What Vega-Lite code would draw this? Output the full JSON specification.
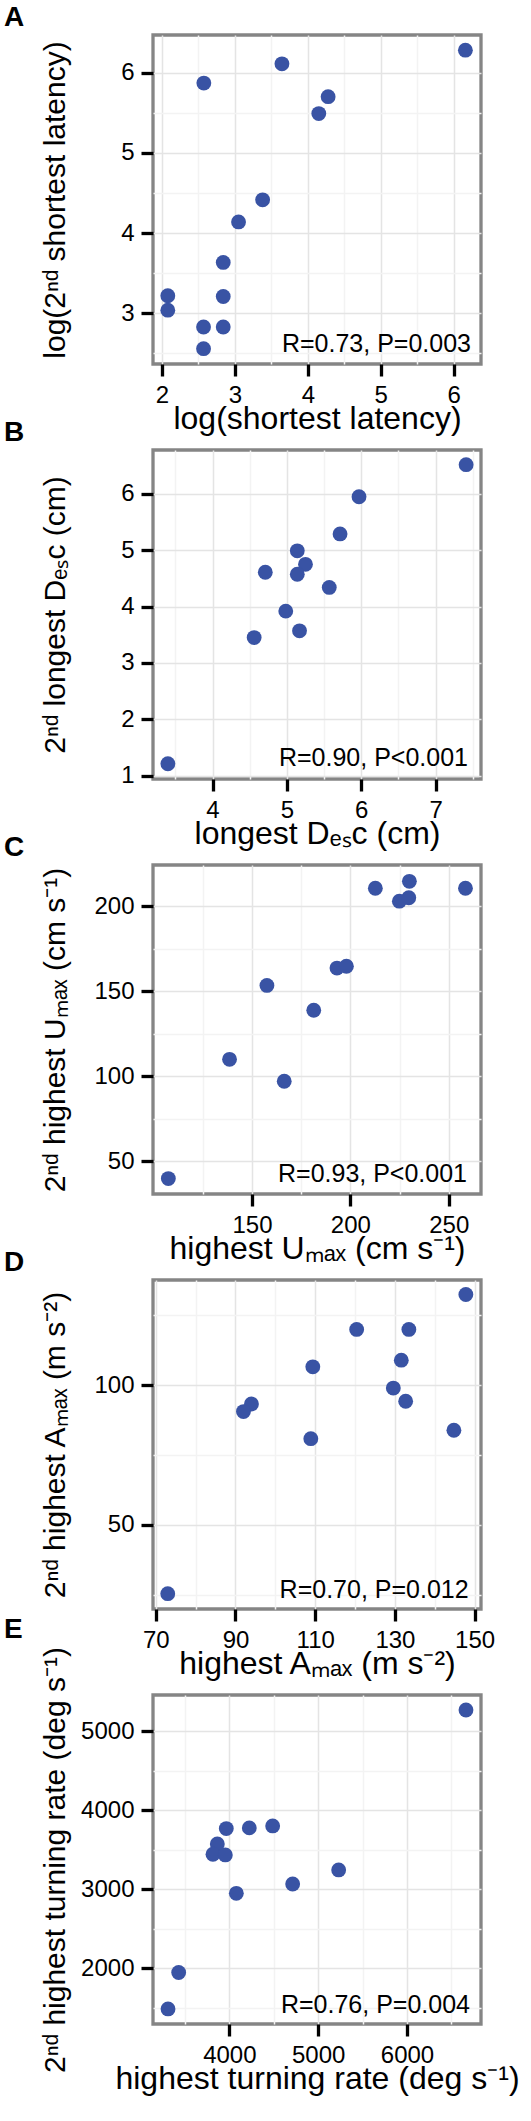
{
  "$schema": "https://vega.github.io/schema/vega-lite/v6.json",
  "background": "white",
  "padding": {"left": 2, "top": 2, "right": 5, "bottom": 5},
  "spacing": 86,
  "bounds": "flush",
  "config": {
    "font": "Arial",
    "view": {"stroke": "#858585", "strokeWidth": 3.3},
    "axis": {
      "domain": false, "grid": true,
      "labelFont": "Arial", "labelFontSize": 24, "labelColor": "#000",
      "titleFont": "Arial", "titleFontWeight": "normal", "titleColor": "#000",
      "tickColor": "#000", "tickWidth": 3.3, "tickSize": 12, "labelPadding": 7,
      "gridWidth": 1.5, "labelOverlap": false, "labelFlush": false
    },
    "axisY": {"titleX": -89, "titleBaseline": "alphabetic", "titleFontSize": 30},
    "axisX": {"titleY": 64, "titleBaseline": "alphabetic", "titleFontSize": 32},
    "title": {"fontSize": 28, "font": "Arial", "fontWeight": "bold", "anchor": "start", "frame": "group", "dx": -149, "offset": 3, "color": "#000"}
  },
  "vconcat": [
    {
      "title": "A",
      "width": 328, "height": 329,
      "data": {"values": [
        {"x": 6.16, "y": 6.28}, {"x": 3.645, "y": 6.11}, {"x": 2.574, "y": 5.87}, {"x": 4.278, "y": 5.70},
        {"x": 4.15, "y": 5.49}, {"x": 3.38, "y": 4.415}, {"x": 3.05, "y": 4.14}, {"x": 2.84, "y": 3.635},
        {"x": 2.08, "y": 3.22}, {"x": 2.84, "y": 3.21}, {"x": 2.08, "y": 3.04}, {"x": 2.57, "y": 2.83},
        {"x": 2.84, "y": 2.83}, {"x": 2.57, "y": 2.56}
      ]},
      "layer": [
        {
          "mark": {"type": "point", "filled": true, "size": 220, "color": "#3953a4", "opacity": 1},
          "encoding": {
            "x": {"field": "x", "type": "quantitative", "scale": {"domain": [1.877, 6.374], "nice": false, "zero": false},
              "axis": {"title": "log(shortest latency)", "values": [2, 2.5, 3, 3.5, 4, 4.5, 5, 5.5, 6],
                "labelExpr": "datum.value % 1 === 0 ? format(datum.value, 'd') : ''",
                "tickOpacity": {"condition": {"test": "datum.value % 1 === 0", "value": 1}, "value": 0},
                "gridColor": {"condition": {"test": "datum.value % 1 === 0", "value": "#e4e4e4"}, "value": "#f3f3f3"}}},
            "y": {"field": "y", "type": "quantitative", "scale": {"domain": [2.369, 6.469], "nice": false, "zero": false},
              "axis": {"title": "log(2ⁿᵈ shortest latency)", "values": [2.5, 3, 3.5, 4, 4.5, 5, 5.5, 6],
                "labelExpr": "datum.value % 1 === 0 ? format(datum.value, 'd') : ''",
                "tickOpacity": {"condition": {"test": "datum.value % 1 === 0", "value": 1}, "value": 0},
                "gridColor": {"condition": {"test": "datum.value % 1 === 0", "value": "#e4e4e4"}, "value": "#f3f3f3"}}}
          }
        },
        {
          "data": {"values": [{"label": "R=0.73, P=0.003"}]},
          "mark": {"type": "text", "font": "Arial", "fontSize": 25, "fontWeight": "normal", "align": "right", "baseline": "alphabetic", "color": "#000"},
          "encoding": {"text": {"field": "label"}, "x": {"datum": 6.237, "type": "quantitative"}, "y": {"datum": 2.515, "type": "quantitative"}}
        }
      ]
    },
    {
      "title": "B",
      "width": 328, "height": 329,
      "data": {"values": [
        {"x": 7.41, "y": 6.52}, {"x": 5.97, "y": 5.95}, {"x": 5.715, "y": 5.29}, {"x": 5.14, "y": 4.99},
        {"x": 5.25, "y": 4.75}, {"x": 4.71, "y": 4.61}, {"x": 5.14, "y": 4.575}, {"x": 5.57, "y": 4.34},
        {"x": 4.985, "y": 3.92}, {"x": 5.17, "y": 3.57}, {"x": 4.56, "y": 3.45}, {"x": 3.40, "y": 1.21}
      ]},
      "layer": [
        {
          "mark": {"type": "point", "filled": true, "size": 220, "color": "#3953a4", "opacity": 1},
          "encoding": {
            "x": {"field": "x", "type": "quantitative", "scale": {"domain": [3.2, 7.61], "nice": false, "zero": false},
              "axis": {"title": "longest Dₑₛc (cm)", "values": [3.5, 4, 4.5, 5, 5.5, 6, 6.5, 7, 7.5],
                "labelExpr": "datum.value % 1 === 0 ? format(datum.value, 'd') : ''",
                "tickOpacity": {"condition": {"test": "datum.value % 1 === 0", "value": 1}, "value": 0},
                "gridColor": {"condition": {"test": "datum.value % 1 === 0", "value": "#e4e4e4"}, "value": "#f3f3f3"}}},
            "y": {"field": "y", "type": "quantitative", "scale": {"domain": [0.94, 6.78], "nice": false, "zero": false},
              "axis": {"title": "2ⁿᵈ longest Dₑₛc (cm)", "values": [1, 1.5, 2, 2.5, 3, 3.5, 4, 4.5, 5, 5.5, 6, 6.5],
                "labelExpr": "datum.value % 1 === 0 ? format(datum.value, 'd') : ''",
                "tickOpacity": {"condition": {"test": "datum.value % 1 === 0", "value": 1}, "value": 0},
                "gridColor": {"condition": {"test": "datum.value % 1 === 0", "value": "#e4e4e4"}, "value": "#f3f3f3"}}}
          }
        },
        {
          "data": {"values": [{"label": "R=0.90, P<0.001"}]},
          "mark": {"type": "text", "font": "Arial", "fontSize": 25, "fontWeight": "normal", "align": "right", "baseline": "alphabetic", "color": "#000"},
          "encoding": {"text": {"field": "label"}, "x": {"datum": 7.435, "type": "quantitative"}, "y": {"datum": 1.166, "type": "quantitative"}}
        }
      ]
    },
    {
      "title": "C",
      "width": 328, "height": 329,
      "data": {"values": [
        {"x": 212.7, "y": 210.7}, {"x": 230, "y": 214.8}, {"x": 224.9, "y": 203.1}, {"x": 229.7, "y": 205.1},
        {"x": 258.5, "y": 210.7}, {"x": 193.2, "y": 163.7}, {"x": 198, "y": 164.8}, {"x": 157.6, "y": 153.5},
        {"x": 181.4, "y": 138.9}, {"x": 138.6, "y": 110}, {"x": 166.4, "y": 97.1}, {"x": 107.5, "y": 39.8}
      ]},
      "layer": [
        {
          "mark": {"type": "point", "filled": true, "size": 220, "color": "#3953a4", "opacity": 1},
          "encoding": {
            "x": {"field": "x", "type": "quantitative", "scale": {"domain": [99.7, 266.4], "nice": false, "zero": false},
              "axis": {"title": "highest Uₘₐₓ (cm s⁻¹)", "values": [125, 150, 175, 200, 225, 250],
                "labelExpr": "datum.value % 50 === 0 ? format(datum.value, 'd') : ''",
                "tickOpacity": {"condition": {"test": "datum.value % 50 === 0", "value": 1}, "value": 0},
                "gridColor": {"condition": {"test": "datum.value % 50 === 0", "value": "#e4e4e4"}, "value": "#f3f3f3"}}},
            "y": {"field": "y", "type": "quantitative", "scale": {"domain": [30.7, 224.4], "nice": false, "zero": false},
              "axis": {"title": "2ⁿᵈ highest Uₘₐₓ (cm s⁻¹)", "values": [50, 75, 100, 125, 150, 175, 200],
                "labelExpr": "datum.value % 50 === 0 ? format(datum.value, 'd') : ''",
                "tickOpacity": {"condition": {"test": "datum.value % 50 === 0", "value": 1}, "value": 0},
                "gridColor": {"condition": {"test": "datum.value % 50 === 0", "value": "#e4e4e4"}, "value": "#f3f3f3"}}}
          }
        },
        {
          "data": {"values": [{"label": "R=0.93, P<0.001"}]},
          "mark": {"type": "text", "font": "Arial", "fontSize": 25, "fontWeight": "normal", "align": "right", "baseline": "alphabetic", "color": "#000"},
          "encoding": {"text": {"field": "label"}, "x": {"datum": 259.3, "type": "quantitative"}, "y": {"datum": 37.5, "type": "quantitative"}}
        }
      ]
    },
    {
      "title": "D",
      "width": 328, "height": 329,
      "data": {"values": [
        {"x": 147.8, "y": 132.5}, {"x": 120.4, "y": 120}, {"x": 133.5, "y": 120}, {"x": 131.6, "y": 109},
        {"x": 109.4, "y": 106.6}, {"x": 129.6, "y": 99}, {"x": 132.7, "y": 94.3}, {"x": 94, "y": 93.3},
        {"x": 92, "y": 90.6}, {"x": 108.9, "y": 80.9}, {"x": 144.8, "y": 83.9}, {"x": 73, "y": 25.4}
      ]},
      "layer": [
        {
          "mark": {"type": "point", "filled": true, "size": 220, "color": "#3953a4", "opacity": 1},
          "encoding": {
            "x": {"field": "x", "type": "quantitative", "scale": {"domain": [69.3, 151.6], "nice": false, "zero": false},
              "axis": {"title": "highest Aₘₐₓ (m s⁻²)", "values": [70, 80, 90, 100, 110, 120, 130, 140, 150],
                "labelExpr": "datum.value % 20 === 10 ? format(datum.value, 'd') : ''",
                "tickOpacity": {"condition": {"test": "datum.value % 20 === 10", "value": 1}, "value": 0},
                "gridColor": {"condition": {"test": "datum.value % 20 === 10", "value": "#e4e4e4"}, "value": "#f3f3f3"}}},
            "y": {"field": "y", "type": "quantitative", "scale": {"domain": [19.9, 137.7], "nice": false, "zero": false},
              "axis": {"title": "2ⁿᵈ highest Aₘₐₓ (m s⁻²)", "values": [25, 50, 75, 100, 125],
                "labelExpr": "datum.value % 50 === 0 ? format(datum.value, 'd') : ''",
                "tickOpacity": {"condition": {"test": "datum.value % 50 === 0", "value": 1}, "value": 0},
                "gridColor": {"condition": {"test": "datum.value % 50 === 0", "value": "#e4e4e4"}, "value": "#f3f3f3"}}}
          }
        },
        {
          "data": {"values": [{"label": "R=0.70, P=0.012"}]},
          "mark": {"type": "text", "font": "Arial", "fontSize": 25, "fontWeight": "normal", "align": "right", "baseline": "alphabetic", "color": "#000"},
          "encoding": {"text": {"field": "label"}, "x": {"datum": 148.5, "type": "quantitative"}, "y": {"datum": 23.7, "type": "quantitative"}}
        }
      ]
    },
    {
      "title": "E",
      "width": 328, "height": 329,
      "data": {"values": [
        {"x": 6664, "y": 5266}, {"x": 3966, "y": 3766}, {"x": 4225, "y": 3775}, {"x": 4488, "y": 3800},
        {"x": 3865, "y": 3572}, {"x": 3816, "y": 3441}, {"x": 3955, "y": 3433}, {"x": 4079, "y": 2947},
        {"x": 4713, "y": 3065}, {"x": 5231, "y": 3243}, {"x": 3430, "y": 1945}, {"x": 3310, "y": 1485}
      ]},
      "layer": [
        {
          "mark": {"type": "point", "filled": true, "size": 220, "color": "#3953a4", "opacity": 1},
          "encoding": {
            "x": {"field": "x", "type": "quantitative", "scale": {"domain": [3141, 6833], "nice": false, "zero": false},
              "axis": {"title": "highest turning rate (deg s⁻¹)", "values": [3500, 4000, 4500, 5000, 5500, 6000, 6500],
                "labelExpr": "datum.value % 1000 === 0 ? format(datum.value, 'd') : ''",
                "tickOpacity": {"condition": {"test": "datum.value % 1000 === 0", "value": 1}, "value": 0},
                "gridColor": {"condition": {"test": "datum.value % 1000 === 0", "value": "#e4e4e4"}, "value": "#f3f3f3"}}},
            "y": {"field": "y", "type": "quantitative", "scale": {"domain": [1294, 5456], "nice": false, "zero": false},
              "axis": {"title": "2ⁿᵈ highest turning rate (deg s⁻¹)", "values": [1500, 2000, 2500, 3000, 3500, 4000, 4500, 5000],
                "labelExpr": "datum.value % 1000 === 0 ? format(datum.value, 'd') : ''",
                "tickOpacity": {"condition": {"test": "datum.value % 1000 === 0", "value": 1}, "value": 0},
                "gridColor": {"condition": {"test": "datum.value % 1000 === 0", "value": "#e4e4e4"}, "value": "#f3f3f3"}}}
          }
        },
        {
          "data": {"values": [{"label": "R=0.76, P=0.004"}]},
          "mark": {"type": "text", "font": "Arial", "fontSize": 25, "fontWeight": "normal", "align": "right", "baseline": "alphabetic", "color": "#000"},
          "encoding": {"text": {"field": "label"}, "x": {"datum": 6709, "type": "quantitative"}, "y": {"datum": 1430, "type": "quantitative"}}
        }
      ]
    }
  ]
}
